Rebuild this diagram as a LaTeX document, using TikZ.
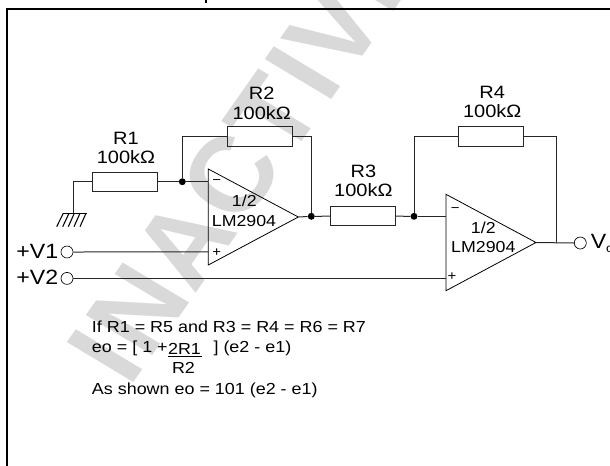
\documentclass[tikz,border=0pt]{standalone}
\usepackage{fontspec}
\setmainfont[FakeStretch=1.12]{Liberation Sans}
\newfontfamily\filigranefont[LetterSpace=2]{Liberation Sans}
\usepackage{tikz}
\begin{document}
\begin{tikzpicture}[x=0.75pt,y=-0.75pt]
\tikzset{resistance/.style={draw, rectangle, line width=0.75pt, black!85, text=black, minimum width=48.5pt, minimum height=14.5pt, inner sep=0pt}}
\tikzset{valeur/.style={align=center, font=\fontsize{13.4}{14.5}\selectfont, inner sep=0pt}}
\tikzset{ampli/.style={font=\fontsize{11.9}{13}\selectfont, inner sep=0pt}}
\tikzset{signe/.style={font=\fontsize{10}{10}\selectfont, inner sep=0pt}}
\tikzset{jonction/.style={circle, fill=black, inner sep=0pt, minimum size=5.2pt}}
\tikzset{borne/.style={draw, circle, inner sep=0pt, minimum size=9pt, line width=0.5pt}}
\tikzset{entree/.style={anchor=east, font=\fontsize{15.5}{16}\selectfont, inner sep=0pt}}
\tikzset{ligne/.style={line width=0.75pt, black!85}}
\tikzset{equation/.style={anchor=west, font=\fontsize{12}{13}\selectfont, inner sep=0pt}}
\useasboundingbox (0,0) rectangle (610,465);
\clip (0,0) rectangle (610,465);
% filigrane
\node[xscale=1.08, rotate=57, transform shape, text=black!15, font=\filigranefont\bfseries\fontsize{80}{82}\selectfont, inner sep=0pt] (Filigrane) at (247,153) {INACTIVE};
\draw[line width=1.5pt] (6.7,470) -- (6.7,9) -- (615,9);
\fill (204.7,0) rectangle (207.3,2.5);
% resistances
\node[resistance] (R1) at (124.7,181.7) {};
\node[resistance] (R2) at (260,136.5) {};
\node[resistance] (R3) at (362.7,216.2) {};
\node[resistance] (R4) at (491.3,136.5) {};
\node[valeur] (L1) at (126,148) {R1\\100kΩ};
\node[valeur] (L2) at (261.7,103.2) {R2\\100kΩ};
\node[valeur] (L3) at (363.4,180.7) {R3\\100kΩ};
\node[valeur] (L4) at (492.2,102.2) {R4\\100kΩ};
% ampli 1
\coordinate (A1h) at (208.3,169);
\coordinate (A1b) at (208.3,265);
\coordinate (A1s) at (298.3,217);
\coordinate (A1m) at (208.3,181.7);
\coordinate (A1p) at (208.3,251.9);
\draw[line width=0.6pt] (A1h) -- (A1s) -- (A1b) -- cycle;
\node[signe] (M1) at (216.7,182.3) {−};
\node[signe] (P1) at (216.7,252.3) {+};
\node[ampli] (D1) at (244.3,200.7) {1/2};
\node[ampli] (T1) at (244,220.7) {LM2904};
% ampli 2
\coordinate (A2h) at (446,194.3);
\coordinate (A2b) at (446,290.7);
\coordinate (A2s) at (536,242.5);
\coordinate (A2m) at (446,216.3);
\coordinate (A2p) at (446,278.4);
\draw[line width=0.6pt] (A2h) -- (A2s) -- (A2b) -- cycle;
\node[signe] (M2) at (455.3,210) {−};
\node[signe] (P2) at (452,276.7) {+};
\node[ampli] (D2) at (483.3,228.3) {1/2};
\node[ampli] (T2) at (483.3,247.3) {LM2904};
% jonctions et bornes
\node[jonction] (J1) at (182.3,181.7) {};
\node[jonction] (J2) at (311.3,216.3) {};
\node[jonction] (J3) at (414,216.3) {};
\node[borne] (V1) at (67,252) {};
\node[borne] (V2) at (67,278.4) {};
\node[borne] (Vs) at (580.3,243) {};
\node[entree] (N1) at (58.5,251.7) {+V1};
\node[entree] (N2) at (58.5,277.7) {+V2};
\node[entree, anchor=west] (Ns) at (590.5,243) {V\raisebox{-3pt}{\fontsize{9}{9}\selectfont o}};
% masse
\coordinate (G) at (73.3,213.3);
\draw[ligne] (R1.west) -| (G);
\draw[line width=1pt] (62.7,213.3) -- (87,213.3);
\draw[line width=0.8pt] (63.3,213.3) -- (56.7,226.7);
\draw[line width=0.8pt] (69,213.3) -- (62.7,226.7);
\draw[line width=0.8pt] (74.3,213.3) -- (68.3,226.7);
\draw[line width=0.8pt] (80,213.3) -- (74,226.7);
\draw[line width=0.8pt] (86,213.3) -- (80,226.7);
% fils
\draw[ligne] (R1.east) -- (J1);
\draw[ligne] (J1) -- (A1m);
\draw[ligne] (J1) |- (R2.west);
\draw[ligne] (R2.east) -| (J2);
\draw[ligne] (A1s) -- (J2);
\draw[ligne] (J2) -- (R3.west);
\draw[ligne] (R3.east) -- (J3);
\draw[ligne] (J3) -- (A2m);
\draw[ligne] (J3) |- (R4.west);
\draw[ligne] (R4.east) -| (556,242.5);
\draw[ligne] (A2s) -- (Vs.west);
\draw[ligne] (V1.east) -- (A1p);
\draw[ligne] (V2.east) -- (A2p);
% equations
\node[equation] (E1) at (91.7,326.7) {If R1 = R5 and R3 = R4 = R6 = R7};
\node[equation] (E2) at (91.7,348.3) {eo = [ 1 +};
\node[equation, anchor=center] (F1) at (184.5,348.6) {2R1};
\node[equation, anchor=center] (F2) at (183.5,368.3) {R2};
\draw[line width=0.6pt] (167.7,356) -- (202.3,356);
\node[equation] (E3) at (213.3,348.3) {] (e2 - e1)};
\node[equation] (E4) at (91.7,390) {As shown eo = 101 (e2 - e1)};
\end{tikzpicture}
\end{document}
